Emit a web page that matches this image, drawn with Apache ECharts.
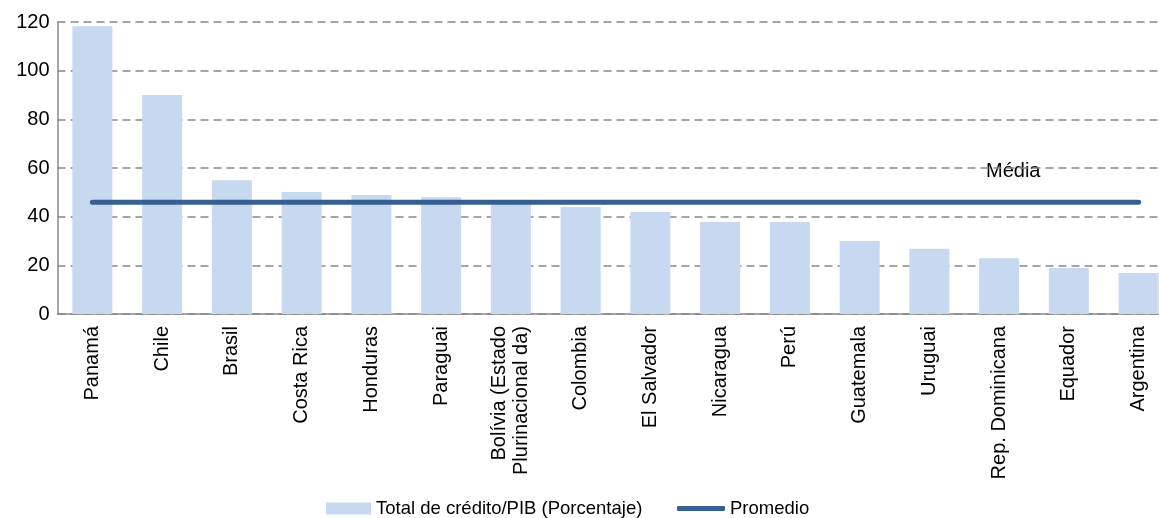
<!DOCTYPE html>
<html>
<head>
<meta charset="utf-8">
<script src="https://cdn.jsdelivr.net/npm/echarts@6/dist/echarts.min.js"></script>
<style>html,body{margin:0;padding:0;background:#fff;}#c{width:1159px;height:518px;}</style>
</head>
<body>
<div id="c"></div>
<script>
var categories = ['Panamá','Chile','Brasil','Costa Rica','Honduras','Paraguai','Bolívia (Estado\nPlurinacional da)','Colombia','El Salvador','Nicaragua','Perú','Guatemala','Uruguai','Rep. Dominicana','Equador','Argentina'];
var creditValues = [118.3, 90, 55, 50.1, 48.9, 48, 45.5, 44, 41.9, 37.8, 37.8, 30, 26.8, 22.9, 18.9, 16.8];
var averageValues = [45.9, 45.9, 45.9, 45.9, 45.9, 45.9, 45.9, 45.9, 45.9, 45.9, 45.9, 45.9, 45.9, 45.9, 45.9, 45.9];
var yTicks = [0, 20, 40, 60, 80, 100, 120];
var seriesNames = ['Total de crédito/PIB (Porcentaje)', 'Promedio'];
var mediaLabel = 'Média';

var chart = echarts.init(document.getElementById('c'));
var font = 'Arial, "Liberation Sans", sans-serif';
var legendText = {fontFamily: font, fontSize: 18.5, color: '#000'};
chart.setOption({
  animation: false,
  grid: {left: 57.5, top: 22, height: 292, width: 1116, containLabel: false, outerBoundsMode: 'none'},
  legend: [
    {
      left: 321, top: 494, itemWidth: 45, itemHeight: 12,
      textStyle: legendText,
      data: [{name: seriesNames[0], icon: 'rect'}]
    },
    {
      left: 672, top: 494, itemWidth: 48, itemHeight: 5,
      textStyle: legendText,
      data: [{name: seriesNames[1], icon: 'roundRect'}]
    }
  ],
  xAxis: {
    type: 'category', data: categories,
    axisLine: {show: true, lineStyle: {color: '#888', width: 1.5}},
    axisTick: {show: false},
    axisLabel: {interval: 0, rotate: 90, margin: 12, fontFamily: font, fontSize: 20, color: '#000', lineHeight: 22}
  },
  yAxis: {
    type: 'value', min: yTicks[0], max: yTicks[yTicks.length - 1], interval: 20,
    axisLine: {show: true, lineStyle: {color: '#888', width: 1.5}},
    axisTick: {show: false},
    axisLabel: {margin: 8, fontFamily: font, fontSize: 20, color: '#000'},
    splitLine: {show: true, lineStyle: {color: '#888', width: 1.5, type: [8, 5]}}
  },
  series: [
    {
      name: seriesNames[0], type: 'bar', data: creditValues,
      barWidth: 40,
      itemStyle: {color: '#c6d9f1'}
    },
    {
      name: seriesNames[1], type: 'line', data: averageValues,
      symbol: 'none', showSymbol: false,
      lineStyle: {color: '#376092', width: 5, cap: 'round'},
      itemStyle: {color: '#376092'}
    }
  ],
  graphic: [
    {type: 'text', left: 986, top: 161, style: {text: mediaLabel, font: '20px ' + font, fill: '#000'}}
  ]
});
</script>
</body>
</html>
